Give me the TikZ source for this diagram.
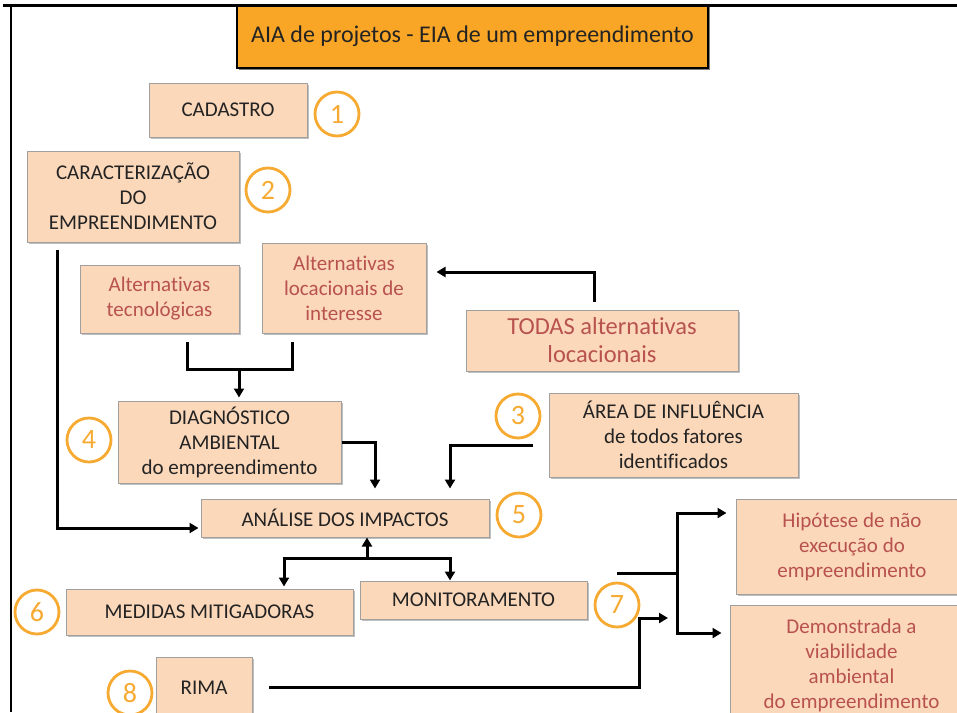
\documentclass[tikz,border=0pt]{standalone}
\usepackage{fontspec}
\setmainfont{Carlito}[Ligatures=NoCommon]
\usetikzlibrary{arrows.meta,shadows,calc}

\definecolor{peach}{RGB}{252,216,186}
\definecolor{boxline}{RGB}{160,160,160}
\definecolor{titlefill}{RGB}{249,166,38}
\definecolor{ringorange}{RGB}{247,170,50}
\definecolor{darktext}{RGB}{35,35,35}
\definecolor{redtext}{RGB}{184,82,78}

\tikzset{
  box/.style={draw=boxline, line width=1pt, fill=peach, align=center,
    inner sep=0pt, text=darktext, font=\fontsize{21}{25}\selectfont,
    drop shadow={shadow xshift=1.5pt, shadow yshift=-1.5pt, opacity=0.25, fill=black}},
  altbox/.style={box, text=redtext},
  titlebox/.style={draw=black, line width=2.5pt, fill=titlefill, align=center,
    inner sep=0pt, text=darktext, font=\fontsize{24}{28}\selectfont,
    drop shadow={shadow xshift=2pt, shadow yshift=-2pt, opacity=0.5, fill=black}},
  num/.style={circle, draw=ringorange, line width=2.8pt, fill=white,
    minimum size=44pt, inner sep=0pt, text=ringorange, font=\fontsize{28}{28}\selectfont},
  link/.style={line width=3pt},
  arr/.style={link, -{Triangle[length=9pt,width=10pt]}},
}

\begin{document}
\begin{tikzpicture}[x=1pt,y=-1pt]
\useasboundingbox (0,0) rectangle (957,712);
\clip (0,0) rectangle (957,712);

% heading
\node[titlebox, minimum width=471pt, minimum height=63pt] (title) at (472.5,36.5)
  {AIA de projetos - EIA de um empreendimento};

% frame
\draw[line width=3pt] (3,5) -- (957,5);
\draw[line width=2.5pt] (11,5) -- (11,712);

% steps
\node[box, minimum width=158pt, minimum height=54pt] (cad) at (228,110) {CADASTRO};
\node[num] (n1) at (337,114) {1};

\node[box, minimum width=212pt, minimum height=91pt] (car) at (133,196.5)
  {CARACTERIZAÇÃO\\DO\\EMPREENDIMENTO};
\node[num] (n2) at (268,190) {2};

\node[altbox, minimum width=159pt, minimum height=68pt] (alttec) at (159.5,299)
  {Alternativas\\tecnológicas};
\node[altbox, minimum width=164pt, minimum height=90pt] (altloc) at (344,288)
  {Alternativas\\locacionais de\\interesse};
\node[altbox, minimum width=272pt, minimum height=61pt, font=\fontsize{24.5}{28}\selectfont]
  (todas) at (602,340.5) {TODAS alternativas\\locacionais};

\node[box, minimum width=223pt, minimum height=82pt] (diag) at (229.5,442)
  {DIAGNÓSTICO\\AMBIENTAL\\do empreendimento};
\node[num] (n4) at (89,440) {4};

\node[box, minimum width=249pt, minimum height=84pt] (area) at (673.5,435)
  {ÁREA DE INFLUÊNCIA\\de todos fatores\\identificados};
\node[num] (n3) at (518,416) {3};

\node[box, minimum width=288pt, minimum height=38pt] (anal) at (345,518)
  {ANÁLISE DOS IMPACTOS};
\node[num] (n5) at (519,515) {5};

\node[box, minimum width=287pt, minimum height=46pt] (med) at (209.5,612)
  {MEDIDAS MITIGADORAS};
\node[num] (n6) at (37,612) {6};

\node[box, minimum width=227pt, minimum height=38pt] (mon) at (473.5,600)
  {MONITORAMENTO};
\node[num] (n7) at (617,605) {7};

\node[box, minimum width=96pt, minimum height=62pt] (rima) at (204,688) {RIMA};
\node[num] (n8) at (130,693) {8};

\node[altbox, minimum width=232pt, minimum height=95pt] (hip) at (852,546.5)
  {Hipótese de não\\execução do\\empreendimento};
\node[altbox, minimum width=243pt, minimum height=120pt] (dem) at (851.5,665)
  {Demonstrada a\\viabilidade\\ambiental\\do empreendimento};

% connector end points
\coordinate (carout) at (57,250);
\coordinate (brL) at (187,342);
\coordinate (brR) at (292,342);
\coordinate (brM) at (239,369);
\coordinate (todasout) at (594,302);
\coordinate (areaout) at (533,445);
\coordinate (split) at (367,558);
\coordinate (monout) at (617,573);
\coordinate (fork) at (677,573);
\coordinate (rimaout) at (269,687);
\coordinate (rimabend) at (639,687);
\coordinate (rimain) at (668,618);

% connectors
\draw[arr] (carout) |- ($(anal.west)+(-2,10)$);
\draw[link] (brL) |- (brR |- brM) -- (brR);
\draw[arr] (brM) -- ($(brM |- diag.north)+(0,-3)$);
\draw[arr] (todasout) |- ($(altloc.east)+(10,-16)$);
\draw[arr] (diag.east) -| ($(anal.north)+(30,-10)$);
\draw[arr] (areaout) -| ($(anal.north)+(105,-10)$);
\draw[arr] (split) -- (split |- anal.south);
\draw[arr] (split) -| ($(med.north)+(74.5,-2)$);
\draw[arr] (split) -| ($(mon.north)+(-23.5,0)$);
\draw[link] (monout) -- (fork);
\draw[arr] (fork) |- ($(hip.west)+(-9,-33.5)$);
\draw[arr] (fork) |- ($(dem.west)+(-8,-32)$);
\draw[arr] (rimaout) -- (rimabend) |- (rimain);
\end{tikzpicture}
\end{document}
